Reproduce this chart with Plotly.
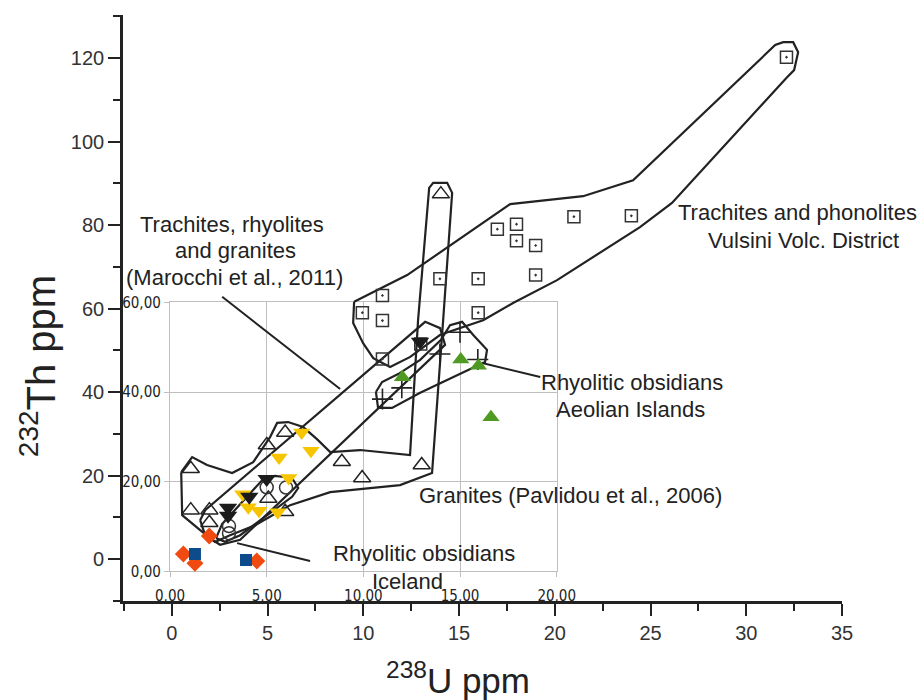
import plotly.graph_objects as go

# ---------------- literature fields (238U ppm, 232Th ppm) ----------------
vulsini_env_u = [9.52, 12.29, 17.67, 21.48, 24.09, 31.51, 31.93, 32.45, 32.71, 32.5, 32.13,
                 26.12, 24.45, 22.37, 20.12, 17.82, 16.26, 14.02, 12.45, 11.4, 10.52, 9.99, 9.47, 9.52]
vulsini_env_th = [61.6, 68.0, 85.0, 86.9, 90.7, 123.1, 123.8, 123.8, 121.4, 117.1, 115.4,
                  85.3, 79.5, 73.3, 66.8, 61.3, 57.2, 53.7, 48.4, 46.0, 48.1, 51.7, 56.5, 61.6]

marocchi_env_u = [1.48, 1.74, 13.23, 14.01, 14.27, 3.57, 2.52, 1.74, 1.48]
marocchi_env_th = [9.3, 11.7, 56.8, 55.3, 51.3, 4.6, 3.4, 5.7, 9.3]

granite_env_u = [0.49, 1.06, 1.84, 3.15, 4.25, 5.13, 5.5, 6.07, 6.86, 7.58, 8.27, 9.83, 12.44,
                 12.86, 13.44, 13.65, 14.38, 14.64, 14.17, 13.59, 11.92, 8.27, 6.18, 4.35,
                 3.04, 2.26, 1.48, 0.54, 0.49]
granite_env_th = [20.8, 24.4, 22.5, 20.6, 23.2, 29.2, 32.6, 32.8, 31.6, 28.7, 25.6, 26.1, 24.9,
                  57.2, 88.9, 90.1, 90.1, 87.7, 57.2, 20.6, 17.7, 16.0, 12.9, 8.1,
                  5.7, 4.1, 6.9, 10.5, 20.8]

aeolian_env_u = [10.66, 10.77, 11.5, 12.97, 16.36, 16.46, 15.73, 15.16, 14.53, 14.06, 12.97, 11.82, 10.98, 10.66]
aeolian_env_th = [40.0, 36.2, 36.2, 39.8, 47.2, 50.1, 53.7, 56.8, 56.0, 52.5, 47.7, 44.3, 42.4, 40.0]

iceland_env_u = [2.31, 2.63, 4.72, 5.39, 6.28, 6.6, 6.28, 3.57, 2.78, 2.31]
iceland_env_th = [5.0, 8.4, 18.9, 19.9, 19.4, 17.0, 14.9, 5.7, 4.1, 5.0]

# literature samples
vulsini_u = [17.0, 18.0, 18.0, 19.0, 21.0, 24.0, 32.1, 19.0, 14.0, 16.0, 11.0, 9.95, 16.0, 11.0, 11.0, 13.0]
vulsini_th = [79.0, 80.2, 76.2, 75.1, 82.0, 82.2, 120.2, 68.0, 67.1, 67.1, 63.1, 59.0, 59.0, 57.1, 47.9, 51.5]

aeolian_u = [15.05, 14.0, 15.98, 12.01, 11.0]
aeolian_th = [54.3, 49.1, 47.8, 41.0, 38.3]

granite_u = [0.99, 0.99, 1.96, 1.96, 5.92, 4.96, 8.88, 5.92, 5.04, 9.94, 13.05, 14.05]
granite_th = [21.6, 11.7, 11.7, 8.7, 30.3, 27.3, 23.3, 11.3, 14.5, 19.4, 22.5, 87.4]

# ---------------- analysed samples (inset scale) ----------------
circle_u = [5.0, 6.0, 3.05, 3.05]
circle_th = [18.75, 18.7, 10.1, 8.5]

black_u = [12.93, 5.0, 4.1, 3.0, 3.0]
black_th = [51.25, 20.6, 16.65, 14.2, 12.4]

yellow_u = [6.81, 7.29, 5.64, 6.14, 3.76, 4.05, 4.6, 5.57]
yellow_th = [31.0, 26.9, 25.4, 20.8, 17.2, 14.3, 13.5, 13.2]

green_u = [12.02, 15.04, 15.95, 16.6]
green_th = [43.3, 47.3, 45.9, 34.4]

orange_u = [0.69, 1.29, 2.03, 4.49]
orange_th = [3.86, 1.79, 7.88, 2.30]

blue_u = [1.29, 3.93]
blue_th = [3.86, 2.52]

# axis ticks
outer_x_ticks = [0, 5, 10, 15, 20, 25, 30, 35]
outer_y_ticks = [0, 20, 40, 60, 80, 100, 120]
inset_x_ticks = [0, 5, 10, 15, 20]
inset_x_text = ["0,00", "5,00", "10,00", "15,00", "20,00"]
inset_y_ticks = [0, 20, 40, 60]
inset_y_text = ["0,00", "20,00", "40,00", "60,00"]

INK = "#222222"
GRID = "#bfbfbf"
FONT = "Liberation Sans, Arial, sans-serif"
NARROW = "Liberation Sans Narrow, Arial Narrow, DejaVu Sans Condensed, sans-serif"

fig = go.Figure()

# the inset grid lives on x/y; an empty trace keeps that subplot drawn
fig.add_trace(go.Scatter(x=[None], y=[None], xaxis="x", yaxis="y", mode="markers",
                         hoverinfo="skip"))

# envelopes on the main axes
for eu, et in [(vulsini_env_u, vulsini_env_th), (marocchi_env_u, marocchi_env_th),
               (granite_env_u, granite_env_th), (aeolian_env_u, aeolian_env_th),
               (iceland_env_u, iceland_env_th)]:
    fig.add_trace(go.Scatter(x=eu, y=et, mode="lines", xaxis="x2", yaxis="y2",
                             line=dict(color=INK, width=2.2), hoverinfo="skip"))

def pts(x, y, axes, symbol, size, color, lw=1.5, lc=None):
    xa, ya = axes
    fig.add_trace(go.Scatter(
        x=x, y=y, mode="markers", xaxis=xa, yaxis=ya, cliponaxis=False,
        marker=dict(symbol=symbol, size=size, color=color,
                    line=dict(color=lc or color, width=lw))))

main = ("x2", "y2")
inset = ("x3", "y3")
pts(vulsini_u, vulsini_th, main, "square-open-dot", 12, "#333333", 1.5)
pts(aeolian_u, aeolian_th, main, "cross-thin-open", 15, INK, 1.6)
pts(granite_u, granite_th, main, "triangle-up-open", 15, INK, 1.5)

pts(circle_u, circle_th, inset, "circle-open", 13, "#333333", 1.5)
pts(yellow_u, yellow_th, inset, "triangle-down", 15, "#f6c500", 0)
pts(black_u, black_th, inset, "triangle-down", 16, "#1b1b1b", 0)
pts(green_u, green_th, inset, "triangle-up", 15, "#4e9a22", 0)
pts(orange_u, orange_th, inset, "diamond", 13, "#f04a10", 0)
pts(blue_u, blue_th, inset, "square", 12, "#0d4b8c", 0)

# leader lines from labels to fields
leaders = [((2.63, 62.8), (8.79, 40.7)),
           ((16.26, 46.9), (19.24, 43.6)),
           ((3.41, 3.8), (7.22, -0.5))]
for (x0, y0), (x1, y1) in leaders:
    fig.add_shape(type="line", xref="x2", yref="y2", x0=x0, y0=y0, x1=x1, y1=y1,
                  line=dict(color=INK, width=2))

labels = [
    ("Trachites, rhyolites", 3.16, 80.2),
    ("and granites", 3.3, 74.0),
    ("(Marocchi et al., 2011)", 3.25, 67.5),
    ("Trachites and phonolites", 32.7, 82.9),
    ("Vulsini Volc. District", 32.97, 76.2),
    ("Rhyolitic obsidians", 24.03, 42.2),
    ("Aeolian Islands", 23.98, 35.9),
    ("Granites (Pavlidou et al., 2006)", 20.8, 15.3),
    ("Rhyolitic obsidians", 13.18, 1.4),
    ("Iceland", 12.29, -5.5),
]
for txt, x, y in labels:
    fig.add_annotation(text=txt, x=x, y=y, xref="x2", yref="y2", showarrow=False,
                       xanchor="center", yanchor="middle",
                       font=dict(family=FONT, size=22, color=INK))

fig.add_annotation(text="<sup>232</sup>Th ppm", xref="paper", yref="paper",
                   x=-0.118, y=0.401, textangle=-90, showarrow=False,
                   xanchor="center", yanchor="middle",
                   font=dict(family=FONT, size=40, color=INK))
fig.add_annotation(text="<sup>238</sup>U ppm", xref="paper", yref="paper",
                   x=0.466, y=-0.131, showarrow=False,
                   xanchor="center", yanchor="middle",
                   font=dict(family=FONT, size=35, color=INK))

inset_dom_x = [0.0654, 0.6032]
inset_dom_y = [0.0507, 0.5094]
inset_common = dict(showgrid=True, gridcolor=GRID, gridwidth=1.4, zeroline=False,
                    showline=True, mirror=True, linecolor=GRID, linewidth=1.4,
                    ticks="outside", ticklen=5, tickcolor=GRID, tickwidth=1.4,
                    automargin=False,
                    tickfont=dict(family=NARROW, size=15, color=INK))
main_common = dict(showgrid=False, zeroline=False, showline=True, linecolor=INK,
                   linewidth=2.7, ticks="outside", ticklen=12, tickwidth=2.2,
                   tickcolor=INK, automargin=False,
                   tickfont=dict(family=FONT, size=20, color="#333333"))
hidden = dict(visible=False, showgrid=False, zeroline=False, automargin=False)

fig.update_layout(
    width=923, height=700,
    margin=dict(l=123, r=81, t=15, b=99, autoexpand=False),
    paper_bgcolor="white", plot_bgcolor="rgba(0,0,0,0)",
    showlegend=False,
    xaxis=dict(domain=inset_dom_x, range=[0, 20], anchor="y", tickvals=inset_x_ticks,
               ticktext=inset_x_text, ticklabelstandoff=6, **inset_common),
    yaxis=dict(domain=inset_dom_y, range=[0, 60], anchor="x", tickvals=inset_y_ticks,
               ticktext=inset_y_text, **inset_common),
    xaxis2=dict(domain=[0, 1], range=[-2.55, 35], anchor="y2", tickvals=outer_x_ticks,
                minor=dict(dtick=2.5, tick0=0, ticks="outside", ticklen=7, tickwidth=2,
                           tickcolor=INK),
                **main_common),
    yaxis2=dict(domain=[0, 1], range=[-10.06, 130.3], anchor="x2", tickvals=outer_y_ticks,
                minor=dict(dtick=10, tick0=0, ticks="outside", ticklen=7, tickwidth=2,
                           tickcolor=INK),
                **main_common),
    xaxis3=dict(domain=inset_dom_x, range=[0, 20], anchor="y3", **hidden),
    yaxis3=dict(domain=inset_dom_y, range=[0, 60], anchor="x3", **hidden),
)

fig.write_html("out.html")
